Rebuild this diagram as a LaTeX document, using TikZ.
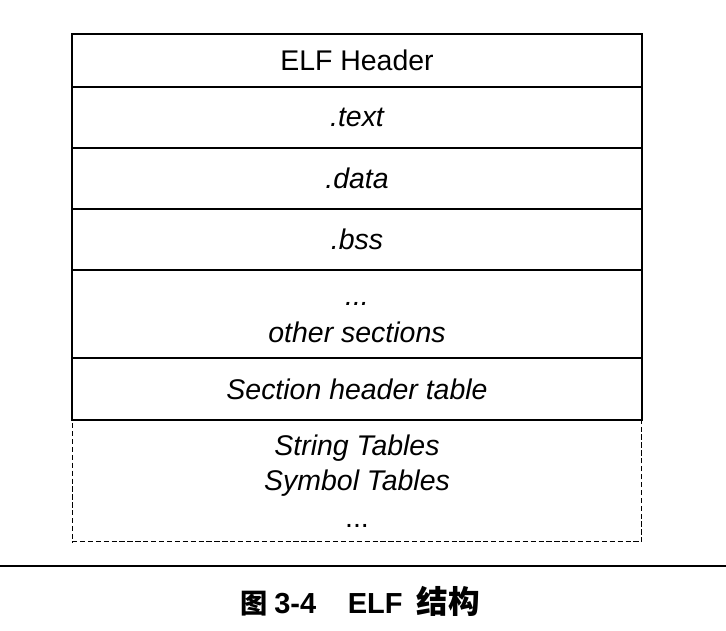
\documentclass[tikz,border=0pt]{standalone}
\usepackage{fontspec}
\setmainfont{Liberation Sans}
\newfontfamily\cjk{Noto Sans CJK SC}
\usetikzlibrary{positioning}

\begin{document}
\begin{tikzpicture}[x=0.02cm, y=-0.02cm, node distance=0pt,
    sect/.style = {draw, rectangle, line width=0.9pt, minimum width=11.4cm, inner sep=0pt, outer sep=0pt,
                   align=center, font=\fontsize{16.2}{20}\selectfont},
    tail/.style = {sect, dash pattern=on 3pt off 1.5pt, line width=0.6pt}]
    \useasboundingbox (0,0) rectangle (726,630);

    \node[sect, minimum height=1.06cm, anchor=north] (hdr) at (357,34) {ELF Header};
    \node[sect, minimum height=1.22cm, below=of hdr] (text) {\itshape .text};
    \node[sect, minimum height=1.22cm, below=of text] (data) {\itshape .data};
    \node[sect, minimum height=1.22cm, below=of data] (bss) {\itshape .bss};
    \node[sect, minimum height=1.76cm, below=of bss] (other) {\rule{0pt}{12pt}\itshape ...\\[1pt] \itshape other sections};
    \node[sect, minimum height=1.24cm, below=of other] (shtab) {\itshape Section header table};
    \node[tail, minimum height=2.44cm, below=of shtab] (tabs) {\itshape String Tables\\ \itshape Symbol Tables\\[1pt] ...};

    % caption under the rule
    \draw[line width=1.1pt] (0,566) -- (726,566);
    \node[font=\bfseries\fontsize{16.5}{20}\selectfont] (cap) at (360,601)
        {{\cjk\fontsize{15.5}{20}\selectfont 图}\hspace{4pt}3-4\hspace{18pt}ELF\hspace{8pt}{\cjk\fontsize{18}{20}\selectfont 结构}};
\end{tikzpicture}
\end{document}
